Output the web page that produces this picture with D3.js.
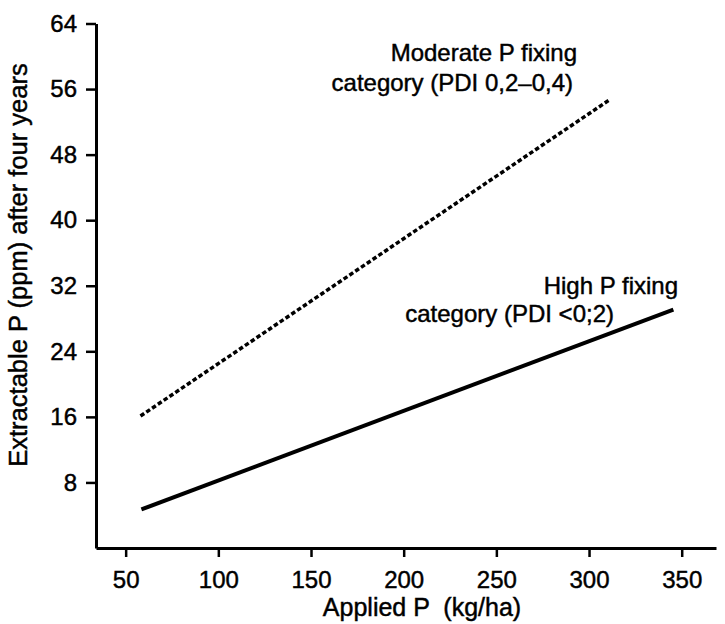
<!DOCTYPE html>
<html>
<head>
<meta charset="utf-8">
<script src="https://cdn.jsdelivr.net/npm/d3@7"></script>
<style>
  body { margin: 0; background: #fff; }
  text { font-family: "Liberation Sans", Arial, sans-serif; fill: #000; stroke: #000; stroke-width: 0.45px; }
</style>
</head>
<body>
<div id="chart"></div>
<script>
// data
const xTicks = [50, 100, 150, 200, 250, 300, 350]
const yTicks = [8, 16, 24, 32, 40, 48, 56, 64]

const moderateP = [58, 310.5]      // applied P (kg/ha)
const moderateY = [16.1, 54.6]     // extractable P (ppm)
const highP = [58.5, 345.5]
const highY = [4.7, 29.1]

const width = 725, height = 624

const svg = d3.select("#chart")
  .append("svg")
    .attr("width", width)
    .attr("height", height)

const x = d3.scaleLinear()
  .domain([34, 368.5])
  .range([96, 716])

const y = d3.scaleLinear()
  .domain([0, 64])
  .range([548, 23.5])

// axes
const xAxis = svg.append("g")
  .attr("transform", `translate(0, ${y(0)})`)
  .call(d3.axisBottom(x).tickValues(xTicks).tickSize(9).tickSizeOuter(0).tickPadding(14))

const yAxis = svg.append("g")
  .attr("transform", `translate(${x(34)}, 0)`)
  .call(d3.axisLeft(y).tickValues(yTicks).tickSize(10).tickSizeOuter(0).tickPadding(9))

for (const ax of [xAxis, yAxis]) {
  ax.attr("font-size", null).attr("font-family", null)
  ax.select(".domain").attr("stroke", "#000").attr("stroke-width", 3)
  ax.selectAll(".tick line").attr("stroke", "#000").attr("stroke-width", 2.5)
  ax.selectAll(".tick text")
    .style("font-size", "24px")
    .attr("fill", "#000")
}

// lines
const line = d3.line()
  .x(d => x(d[0]))
  .y(d => y(d[1]))

svg.append("path")
  .datum(d3.zip(moderateP, moderateY))
  .attr("d", line)
  .attr("fill", "none")
  .attr("stroke", "#000")
  .attr("stroke-width", 3.5)
  .attr("stroke-dasharray", "4.5,2.5")

svg.append("path")
  .datum(d3.zip(highP, highY))
  .attr("d", line)
  .attr("fill", "none")
  .attr("stroke", "#000")
  .attr("stroke-width", 4)

// annotations
const notes = [
  {t: "Moderate P fixing", x: 577, y: 61},
  {t: "category (PDI 0,2\u20130,4)", x: 573, y: 91},
  {t: "High P fixing", x: 678, y: 294},
  {t: "category (PDI <0;2)", x: 614, y: 322},
]
svg.selectAll("text.note")
  .data(notes)
  .join("text")
    .attr("class", "note")
    .attr("x", d => d.x)
    .attr("y", d => d.y)
    .attr("text-anchor", "end")
    .style("font-size", "24px")
    .text(d => d.t)

// axis titles
svg.append("text")
  .attr("x", 422)
  .attr("y", 616)
  .attr("text-anchor", "middle")
  .style("font-size", "25px")
  .style("white-space", "pre")
  .text("Applied P  (kg/ha)")

svg.append("text")
  .attr("transform", "translate(27, 265) rotate(-90)")
  .attr("text-anchor", "middle")
  .style("font-size", "25.5px")
  .text("Extractable P (ppm) after four years")
</script>
</body>
</html>
